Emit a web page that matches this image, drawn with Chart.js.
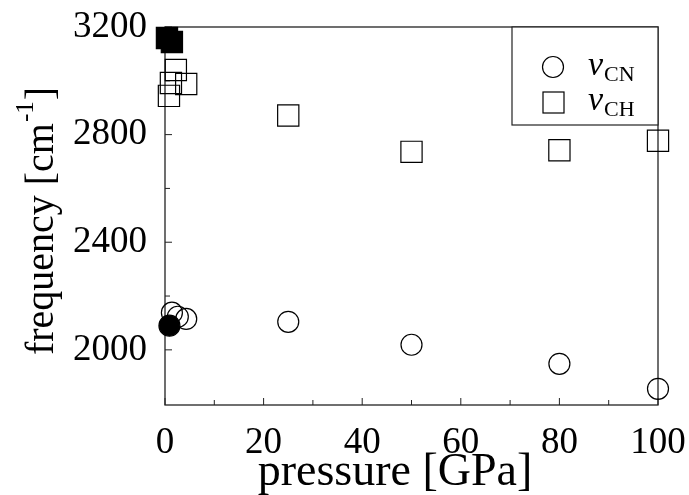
<!DOCTYPE html>
<html>
<head>
<meta charset="utf-8">
<script src="https://cdn.jsdelivr.net/npm/chart.js@4/dist/chart.umd.min.js"></script>
<style>
  html, body { margin: 0; padding: 0; background: #fff; }
  #wrap { width: 689px; height: 495px; }
</style>
</head>
<body>
<div id="wrap"><canvas id="freqChart" width="689" height="495"></canvas></div>
<script>
// pressure [GPa] / frequency [cm-1]
const cnPressure = [1.4, 2.6, 4.3, 25, 50, 80, 100];
const cnFreq = [2138, 2123, 2115, 2104, 2019, 1948, 1855];
const cnExpPressure = [0.9];
const cnExpFreq = [2090];

const chPressure = [0.8, 1.2, 2.2, 4.3, 25, 50, 80, 100];
const chFreq = [2944, 2992, 3040, 2988, 2871, 2736, 2742, 2777];
const chExpPressure = [0.4, 1.4];
const chExpFreq = [3159, 3144];

const xTicks = [0, 20, 40, 60, 80, 100];
const yTicks = [2000, 2400, 2800, 3200];
const xMinorStep = 10;
const yMinorStep = 200;

const SERIF = "'Liberation Serif', 'DejaVu Serif', serif";

function toPoints(xs, ys) {
  return xs.map((x, i) => ({ x, y: ys[i] }));
}

function noOverflow(s) {
  s.paddingTop = 0;
  s.paddingBottom = 0;
  s.paddingLeft = 0;
  s.paddingRight = 0;
}

// frame + inward tick marks
const framePlugin = {
  id: 'frame',
  beforeDatasetsDraw(chart) {
    const { ctx, chartArea: a, scales } = chart;
    ctx.save();
    ctx.strokeStyle = '#222';
    ctx.lineWidth = 1.3;
    ctx.strokeRect(a.left, a.top, a.right - a.left, a.bottom - a.top);
    ctx.lineWidth = 1;
    ctx.beginPath();
    for (let v = 0; v <= 100; v += xMinorStep) {
      const px = scales.x.getPixelForValue(v);
      const len = v % 20 === 0 ? 7 : 5;
      ctx.moveTo(px, a.bottom);
      ctx.lineTo(px, a.bottom - len);
    }
    for (let v = 2000; v <= 3200; v += yMinorStep) {
      const py = scales.y.getPixelForValue(v);
      const len = v % 400 === 0 ? 7 : 5;
      ctx.moveTo(a.left, py);
      ctx.lineTo(a.left + len, py);
    }
    ctx.stroke();
    ctx.restore();
  }
};

// axis titles (the y one carries a small superscript)
const titlesPlugin = {
  id: 'axisTitles',
  afterDraw(chart) {
    const { ctx, chartArea: a } = chart;
    ctx.save();
    ctx.fillStyle = '#000';
    ctx.textBaseline = 'alphabetic';

    ctx.font = '46px ' + SERIF;
    ctx.textAlign = 'center';
    ctx.fillText('pressure [GPa]', 395, 485);
    ctx.textAlign = 'left';

    const cy = (a.top + a.bottom) / 2 + 5;
    ctx.translate(40, cy);
    ctx.rotate(-Math.PI / 2);
    const main = 'frequency [cm';
    ctx.font = '40px ' + SERIF;
    const wMain = ctx.measureText(main).width;
    const wEnd = ctx.measureText(']').width;
    ctx.font = '25px ' + SERIF;
    const wSup = ctx.measureText('-1').width;
    const total = wMain + wSup + 2 + wEnd;
    let x = -total / 2;
    const base = 13;
    ctx.font = '40px ' + SERIF;
    ctx.fillText(main, x, base);
    x += wMain + 1;
    ctx.font = '25px ' + SERIF;
    ctx.fillText('-1', x, base - 20);
    x += wSup + 1;
    ctx.font = '40px ' + SERIF;
    ctx.fillText(']', x, base);
    ctx.restore();
  }
};

// boxed legend in the upper right corner
const legendPlugin = {
  id: 'boxLegend',
  afterDatasetsDraw(chart) {
    const { ctx, chartArea: a } = chart;
    const x0 = 512, y0 = a.top, x1 = a.right, y1 = 125;
    ctx.save();
    ctx.fillStyle = '#fff';
    ctx.fillRect(x0, y0, x1 - x0, y1 - y0);
    ctx.strokeStyle = '#222';
    ctx.lineWidth = 1.2;
    ctx.strokeRect(x0, y0, x1 - x0, y1 - y0);

    ctx.strokeStyle = '#000';
    ctx.beginPath();
    ctx.arc(553, 67, 10.5, 0, Math.PI * 2);
    ctx.stroke();
    ctx.strokeRect(543, 92, 21, 21);

    const rows = [['CN', 67], ['CH', 102]];
    ctx.fillStyle = '#000';
    ctx.textBaseline = 'alphabetic';
    rows.forEach(([sub, cy]) => {
      ctx.font = 'italic 34px ' + SERIF;
      ctx.fillText('\u03BD', 588, cy + 8);
      const w = ctx.measureText('\u03BD').width;
      ctx.font = '22px ' + SERIF;
      ctx.fillText(sub, 588 + w + 1, cy + 14);
    });
    ctx.restore();
  }
};

const openStyle = { borderColor: '#000', backgroundColor: 'rgba(0,0,0,0)', borderWidth: 1.2 };
const fullStyle = { borderColor: '#000', backgroundColor: '#000', borderWidth: 1.2 };

new Chart(document.getElementById('freqChart'), {
  type: 'scatter',
  data: {
    datasets: [
      { label: '\u03BD CN', data: toPoints(cnPressure, cnFreq), pointStyle: 'circle', pointRadius: 10.5, ...openStyle },
      { label: '\u03BD CN exp', data: toPoints(cnExpPressure, cnExpFreq), pointStyle: 'circle', pointRadius: 10.5, ...fullStyle },
      { label: '\u03BD CH', data: toPoints(chPressure, chFreq), pointStyle: 'rect', pointRadius: 15, ...openStyle },
      { label: '\u03BD CH exp', data: toPoints(chExpPressure, chExpFreq), pointStyle: 'rect', pointRadius: 15, ...fullStyle },
    ]
  },
  options: {
    responsive: false,
    animation: false,
    clip: false,
    layout: { padding: { left: 0, top: 27, right: 31, bottom: 0 } },
    plugins: { legend: { display: false }, tooltip: { enabled: false } },
    scales: {
      x: {
        type: 'linear',
        min: 0,
        max: 100,
        grid: { display: false, drawTicks: false },
        border: { display: false },
        afterBuildTicks: s => { s.ticks = xTicks.map(v => ({ value: v })); },
        afterFit: s => { s.height = 90; noOverflow(s); },
        ticks: { color: '#000', padding: 16, maxRotation: 0, font: { family: SERIF, size: 37 }, callback: v => String(v) },
        title: { display: false }
      },
      y: {
        type: 'linear',
        min: 1795,
        max: 3200,
        grid: { display: false, drawTicks: false },
        border: { display: false },
        afterBuildTicks: s => { s.ticks = yTicks.map(v => ({ value: v })); },
        afterFit: s => { s.width = 165; noOverflow(s); },
        ticks: { color: '#000', padding: 18, font: { family: SERIF, size: 37 }, callback: v => String(v) },
        title: { display: false }
      }
    }
  },
  plugins: [framePlugin, titlesPlugin, legendPlugin]
});
</script>
</body>
</html>
